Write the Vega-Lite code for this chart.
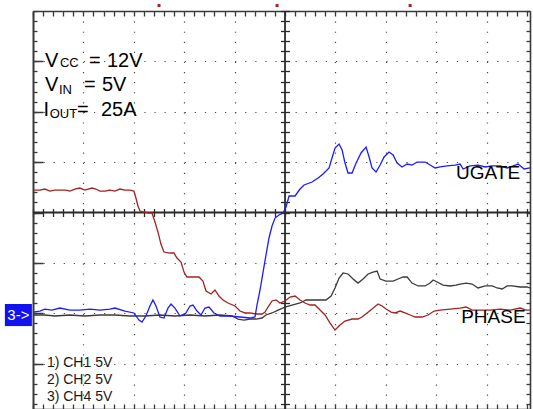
{
  "$schema": "https://vega.github.io/schema/vega-lite/v6.json",
  "width": 497,
  "height": 398,
  "autosize": {"type": "none"},
  "padding": {"left": 33, "top": 11, "right": 3, "bottom": 0},
  "background": "white",
  "config": {
    "view": {"stroke": null},
    "axis": {"labels": false, "title": null, "grid": false, "domain": false, "ticks": false}
  },
  "datasets": {
    "traces": [
      {"t": -250, "v": -10.17, "ch": "CH1"}, {"t": -238.2, "v": -10.17, "ch": "CH1"}, {"t": -228.3, "v": -10.27, "ch": "CH1"}, {"t": -213.4, "v": -10.17, "ch": "CH1"}, {"t": -198.5, "v": -10.27, "ch": "CH1"}, {"t": -183.6, "v": -10.17, "ch": "CH1"}, {"t": -168.7, "v": -10.17, "ch": "CH1"}, {"t": -153.8, "v": -10.27, "ch": "CH1"}, {"t": -138.9, "v": -10.27, "ch": "CH1"}, {"t": -124.1, "v": -10.17, "ch": "CH1"}, {"t": -109.2, "v": -10.27, "ch": "CH1"}, {"t": -94.3, "v": -10.17, "ch": "CH1"}, {"t": -79.4, "v": -10.27, "ch": "CH1"}, {"t": -64.5, "v": -10.17, "ch": "CH1"}, {"t": -52.6, "v": -10.27, "ch": "CH1"}, {"t": -46.6, "v": -10.57, "ch": "CH1"}, {"t": -40.7, "v": -10.67, "ch": "CH1"}, {"t": -34.7, "v": -10.57, "ch": "CH1"}, {"t": -28.8, "v": -10.57, "ch": "CH1"}, {"t": -22.8, "v": -10.47, "ch": "CH1"}, {"t": -18.9, "v": -10.17, "ch": "CH1"}, {"t": -12.9, "v": -9.97, "ch": "CH1"}, {"t": -6.9, "v": -9.68, "ch": "CH1"}, {"t": 0, "v": -9.38, "ch": "CH1"}, {"t": 6.9, "v": -9.18, "ch": "CH1"}, {"t": 14.9, "v": -8.98, "ch": "CH1"}, {"t": 20.8, "v": -8.68, "ch": "CH1"}, {"t": 27.8, "v": -8.68, "ch": "CH1"}, {"t": 34.7, "v": -8.68, "ch": "CH1"}, {"t": 40.7, "v": -8.68, "ch": "CH1"}, {"t": 45.7, "v": -8.29, "ch": "CH1"}, {"t": 49.6, "v": -7.49, "ch": "CH1"}, {"t": 53.6, "v": -6.5, "ch": "CH1"}, {"t": 57.6, "v": -6.0, "ch": "CH1"}, {"t": 62.5, "v": -6.1, "ch": "CH1"}, {"t": 67.5, "v": -6.6, "ch": "CH1"}, {"t": 72.4, "v": -7.0, "ch": "CH1"}, {"t": 77.4, "v": -6.6, "ch": "CH1"}, {"t": 82.4, "v": -6.1, "ch": "CH1"}, {"t": 87.3, "v": -5.91, "ch": "CH1"}, {"t": 91.3, "v": -5.81, "ch": "CH1"}, {"t": 94.3, "v": -6.6, "ch": "CH1"}, {"t": 100.2, "v": -6.8, "ch": "CH1"}, {"t": 107.2, "v": -6.8, "ch": "CH1"}, {"t": 112.1, "v": -6.6, "ch": "CH1"}, {"t": 117.1, "v": -6.4, "ch": "CH1"}, {"t": 121.1, "v": -6.4, "ch": "CH1"}, {"t": 126, "v": -7.0, "ch": "CH1"}, {"t": 132, "v": -7.29, "ch": "CH1"}, {"t": 138.9, "v": -7.29, "ch": "CH1"}, {"t": 143.9, "v": -7.0, "ch": "CH1"}, {"t": 146.9, "v": -6.7, "ch": "CH1"}, {"t": 150.9, "v": -6.9, "ch": "CH1"}, {"t": 156.8, "v": -7.2, "ch": "CH1"}, {"t": 163.8, "v": -7.29, "ch": "CH1"}, {"t": 169.7, "v": -7.2, "ch": "CH1"}, {"t": 173.7, "v": -7.1, "ch": "CH1"}, {"t": 179.6, "v": -7.0, "ch": "CH1"}, {"t": 185.6, "v": -7.1, "ch": "CH1"}, {"t": 191.5, "v": -7.49, "ch": "CH1"}, {"t": 198.5, "v": -7.29, "ch": "CH1"}, {"t": 205.4, "v": -7.29, "ch": "CH1"}, {"t": 210.4, "v": -7.49, "ch": "CH1"}, {"t": 215.4, "v": -7.59, "ch": "CH1"}, {"t": 220.3, "v": -7.29, "ch": "CH1"}, {"t": 225.3, "v": -7.29, "ch": "CH1"}, {"t": 233.2, "v": -7.39, "ch": "CH1"}, {"t": 240.2, "v": -7.39, "ch": "CH1"}, {"t": 243, "v": -7.49, "ch": "CH1"},

      {"t": -250, "v": 2.23, "ch": "CH2"}, {"t": -243.2, "v": 2.23, "ch": "CH2"}, {"t": -238.2, "v": 2.33, "ch": "CH2"}, {"t": -233.2, "v": 2.13, "ch": "CH2"}, {"t": -228.3, "v": 2.23, "ch": "CH2"}, {"t": -223.3, "v": 2.23, "ch": "CH2"}, {"t": -217.3, "v": 2.23, "ch": "CH2"}, {"t": -213.4, "v": 2.13, "ch": "CH2"}, {"t": -208.4, "v": 2.33, "ch": "CH2"}, {"t": -203.5, "v": 2.43, "ch": "CH2"}, {"t": -198.5, "v": 2.23, "ch": "CH2"}, {"t": -191.5, "v": 2.43, "ch": "CH2"}, {"t": -187.6, "v": 2.33, "ch": "CH2"}, {"t": -183.6, "v": 2.13, "ch": "CH2"}, {"t": -178.6, "v": 2.13, "ch": "CH2"}, {"t": -173.7, "v": 2.23, "ch": "CH2"}, {"t": -168.7, "v": 2.13, "ch": "CH2"}, {"t": -163.8, "v": 2.33, "ch": "CH2"}, {"t": -158.8, "v": 2.23, "ch": "CH2"}, {"t": -153.8, "v": 2.23, "ch": "CH2"}, {"t": -149.9, "v": 2.13, "ch": "CH2"}, {"t": -147.9, "v": 1.44, "ch": "CH2"}, {"t": -145.9, "v": 0.65, "ch": "CH2"}, {"t": -143.9, "v": 0.15, "ch": "CH2"}, {"t": -139.9, "v": 0.05, "ch": "CH2"}, {"t": -135, "v": -0.05, "ch": "CH2"}, {"t": -132, "v": -0.05, "ch": "CH2"}, {"t": -129, "v": -0.94, "ch": "CH2"}, {"t": -126, "v": -1.94, "ch": "CH2"}, {"t": -123.1, "v": -3.13, "ch": "CH2"}, {"t": -120.1, "v": -3.92, "ch": "CH2"}, {"t": -114.1, "v": -4.02, "ch": "CH2"}, {"t": -110.2, "v": -4.02, "ch": "CH2"}, {"t": -107.2, "v": -4.52, "ch": "CH2"}, {"t": -103.2, "v": -4.91, "ch": "CH2"}, {"t": -100.2, "v": -5.91, "ch": "CH2"}, {"t": -97.3, "v": -6.4, "ch": "CH2"}, {"t": -91.3, "v": -6.4, "ch": "CH2"}, {"t": -85.4, "v": -6.4, "ch": "CH2"}, {"t": -81.4, "v": -6.8, "ch": "CH2"}, {"t": -78.4, "v": -7.79, "ch": "CH2"}, {"t": -73.4, "v": -8.09, "ch": "CH2"}, {"t": -69.5, "v": -7.69, "ch": "CH2"}, {"t": -65.5, "v": -8.29, "ch": "CH2"}, {"t": -61.5, "v": -8.68, "ch": "CH2"}, {"t": -56.6, "v": -8.98, "ch": "CH2"}, {"t": -49.6, "v": -9.28, "ch": "CH2"}, {"t": -44.7, "v": -9.78, "ch": "CH2"}, {"t": -39.7, "v": -9.97, "ch": "CH2"}, {"t": -34.7, "v": -9.97, "ch": "CH2"}, {"t": -28.8, "v": -10.07, "ch": "CH2"}, {"t": -22.8, "v": -10.07, "ch": "CH2"}, {"t": -19.8, "v": -9.88, "ch": "CH2"}, {"t": -16.9, "v": -9.38, "ch": "CH2"}, {"t": -12.9, "v": -8.78, "ch": "CH2"}, {"t": -8.9, "v": -8.68, "ch": "CH2"}, {"t": -5, "v": -8.98, "ch": "CH2"}, {"t": 0, "v": -8.78, "ch": "CH2"}, {"t": 5, "v": -8.39, "ch": "CH2"}, {"t": 9.9, "v": -8.29, "ch": "CH2"}, {"t": 14.9, "v": -8.68, "ch": "CH2"}, {"t": 19.8, "v": -8.98, "ch": "CH2"}, {"t": 24.8, "v": -9.18, "ch": "CH2"}, {"t": 29.8, "v": -9.18, "ch": "CH2"}, {"t": 34.7, "v": -9.68, "ch": "CH2"}, {"t": 39.7, "v": -10.17, "ch": "CH2"}, {"t": 44.7, "v": -10.97, "ch": "CH2"}, {"t": 49.6, "v": -11.66, "ch": "CH2"}, {"t": 54.6, "v": -11.17, "ch": "CH2"}, {"t": 59.5, "v": -10.77, "ch": "CH2"}, {"t": 66.5, "v": -10.57, "ch": "CH2"}, {"t": 72.4, "v": -10.57, "ch": "CH2"}, {"t": 76.4, "v": -10.37, "ch": "CH2"}, {"t": 81.4, "v": -9.97, "ch": "CH2"}, {"t": 86.3, "v": -9.58, "ch": "CH2"}, {"t": 92.3, "v": -9.08, "ch": "CH2"}, {"t": 96.3, "v": -9.28, "ch": "CH2"}, {"t": 100.2, "v": -9.58, "ch": "CH2"}, {"t": 105.2, "v": -9.88, "ch": "CH2"}, {"t": 109.2, "v": -9.97, "ch": "CH2"}, {"t": 114.1, "v": -9.78, "ch": "CH2"}, {"t": 119.1, "v": -9.97, "ch": "CH2"}, {"t": 124.1, "v": -10.17, "ch": "CH2"}, {"t": 129, "v": -10.37, "ch": "CH2"}, {"t": 136, "v": -10.37, "ch": "CH2"}, {"t": 141.9, "v": -10.17, "ch": "CH2"}, {"t": 147.9, "v": -9.78, "ch": "CH2"}, {"t": 153.8, "v": -9.68, "ch": "CH2"}, {"t": 163.8, "v": -9.58, "ch": "CH2"}, {"t": 173.7, "v": -9.48, "ch": "CH2"}, {"t": 179.6, "v": -9.38, "ch": "CH2"}, {"t": 185.6, "v": -9.68, "ch": "CH2"}, {"t": 193.5, "v": -9.68, "ch": "CH2"}, {"t": 203.5, "v": -9.68, "ch": "CH2"}, {"t": 213.4, "v": -9.58, "ch": "CH2"}, {"t": 223.3, "v": -9.68, "ch": "CH2"}, {"t": 233.2, "v": -9.48, "ch": "CH2"}, {"t": 239.2, "v": -9.68, "ch": "CH2"}, {"t": 243, "v": -9.68, "ch": "CH2"},

      {"t": -250, "v": -9.88, "ch": "CH4"}, {"t": -243.2, "v": -9.78, "ch": "CH4"}, {"t": -238.2, "v": -9.58, "ch": "CH4"}, {"t": -231.2, "v": -9.68, "ch": "CH4"}, {"t": -223.3, "v": -9.48, "ch": "CH4"}, {"t": -213.4, "v": -9.68, "ch": "CH4"}, {"t": -203.5, "v": -9.68, "ch": "CH4"}, {"t": -193.5, "v": -9.58, "ch": "CH4"}, {"t": -183.6, "v": -9.68, "ch": "CH4"}, {"t": -173.7, "v": -9.58, "ch": "CH4"}, {"t": -168.7, "v": -9.48, "ch": "CH4"}, {"t": -158.8, "v": -9.78, "ch": "CH4"}, {"t": -149.9, "v": -9.97, "ch": "CH4"}, {"t": -144.9, "v": -10.67, "ch": "CH4"}, {"t": -141.9, "v": -10.87, "ch": "CH4"}, {"t": -138, "v": -10.27, "ch": "CH4"}, {"t": -134, "v": -9.28, "ch": "CH4"}, {"t": -131, "v": -8.68, "ch": "CH4"}, {"t": -128, "v": -9.28, "ch": "CH4"}, {"t": -124.1, "v": -10.37, "ch": "CH4"}, {"t": -120.1, "v": -10.47, "ch": "CH4"}, {"t": -116.1, "v": -9.48, "ch": "CH4"}, {"t": -113.1, "v": -9.08, "ch": "CH4"}, {"t": -109.2, "v": -9.48, "ch": "CH4"}, {"t": -104.2, "v": -10.27, "ch": "CH4"}, {"t": -98.3, "v": -9.97, "ch": "CH4"}, {"t": -94.3, "v": -9.28, "ch": "CH4"}, {"t": -91.3, "v": -9.18, "ch": "CH4"}, {"t": -87.3, "v": -9.78, "ch": "CH4"}, {"t": -83.4, "v": -10.17, "ch": "CH4"}, {"t": -79.4, "v": -9.48, "ch": "CH4"}, {"t": -75.4, "v": -9.38, "ch": "CH4"}, {"t": -70.5, "v": -9.97, "ch": "CH4"}, {"t": -64.5, "v": -10.27, "ch": "CH4"}, {"t": -54.6, "v": -10.27, "ch": "CH4"}, {"t": -44.7, "v": -10.37, "ch": "CH4"}, {"t": -34.7, "v": -10.47, "ch": "CH4"}, {"t": -29.8, "v": -10.37, "ch": "CH4"}, {"t": -27.8, "v": -9.18, "ch": "CH4"}, {"t": -24.8, "v": -7.69, "ch": "CH4"}, {"t": -21.8, "v": -5.91, "ch": "CH4"}, {"t": -18.9, "v": -4.22, "ch": "CH4"}, {"t": -15.9, "v": -2.53, "ch": "CH4"}, {"t": -12.9, "v": -1.34, "ch": "CH4"}, {"t": -9.9, "v": -0.55, "ch": "CH4"}, {"t": -6, "v": -0.25, "ch": "CH4"}, {"t": -2, "v": -0.05, "ch": "CH4"}, {"t": 1, "v": 0.55, "ch": "CH4"}, {"t": 4, "v": 1.64, "ch": "CH4"}, {"t": 9.9, "v": 1.64, "ch": "CH4"}, {"t": 14.9, "v": 2.33, "ch": "CH4"}, {"t": 18.9, "v": 2.73, "ch": "CH4"}, {"t": 26.8, "v": 3.03, "ch": "CH4"}, {"t": 32.8, "v": 3.42, "ch": "CH4"}, {"t": 37.7, "v": 3.82, "ch": "CH4"}, {"t": 43.7, "v": 4.42, "ch": "CH4"}, {"t": 46.6, "v": 5.41, "ch": "CH4"}, {"t": 49.6, "v": 6.4, "ch": "CH4"}, {"t": 53.6, "v": 6.8, "ch": "CH4"}, {"t": 56.6, "v": 6.2, "ch": "CH4"}, {"t": 59.5, "v": 4.91, "ch": "CH4"}, {"t": 62.5, "v": 3.92, "ch": "CH4"}, {"t": 66.5, "v": 3.92, "ch": "CH4"}, {"t": 70.5, "v": 4.91, "ch": "CH4"}, {"t": 75.4, "v": 5.91, "ch": "CH4"}, {"t": 80.4, "v": 6.5, "ch": "CH4"}, {"t": 83.4, "v": 5.51, "ch": "CH4"}, {"t": 86.3, "v": 4.42, "ch": "CH4"}, {"t": 90.3, "v": 4.02, "ch": "CH4"}, {"t": 94.3, "v": 4.71, "ch": "CH4"}, {"t": 98.3, "v": 5.51, "ch": "CH4"}, {"t": 103.2, "v": 6.0, "ch": "CH4"}, {"t": 107.2, "v": 5.71, "ch": "CH4"}, {"t": 111.2, "v": 4.91, "ch": "CH4"}, {"t": 116.1, "v": 4.52, "ch": "CH4"}, {"t": 121.1, "v": 4.81, "ch": "CH4"}, {"t": 126, "v": 4.71, "ch": "CH4"}, {"t": 131, "v": 5.01, "ch": "CH4"}, {"t": 138.9, "v": 5.01, "ch": "CH4"}, {"t": 143.9, "v": 4.71, "ch": "CH4"}, {"t": 148.9, "v": 4.42, "ch": "CH4"}, {"t": 153.8, "v": 4.52, "ch": "CH4"}, {"t": 160.8, "v": 4.62, "ch": "CH4"}, {"t": 168.7, "v": 4.71, "ch": "CH4"}, {"t": 173.7, "v": 4.81, "ch": "CH4"}, {"t": 176.7, "v": 4.32, "ch": "CH4"}, {"t": 183.6, "v": 4.62, "ch": "CH4"}, {"t": 191.5, "v": 4.71, "ch": "CH4"}, {"t": 198.5, "v": 4.52, "ch": "CH4"}, {"t": 205.4, "v": 4.62, "ch": "CH4"}, {"t": 213.4, "v": 4.62, "ch": "CH4"}, {"t": 220.3, "v": 4.42, "ch": "CH4"}, {"t": 226.3, "v": 4.62, "ch": "CH4"}, {"t": 231.2, "v": 4.81, "ch": "CH4"}, {"t": 237.2, "v": 4.32, "ch": "CH4"}, {"t": 243, "v": 4.42, "ch": "CH4"}
    ],
    "notes": [
      {"t": -238.2, "v": 14.44, "text": "V", "role": "main"},
      {"t": -194.5, "v": 14.44, "text": "=", "role": "main"},
      {"t": -176.6, "v": 14.44, "text": "12V", "role": "main"},
      {"t": -238.2, "v": 12.06, "text": "V", "role": "main"},
      {"t": -199.5, "v": 12.06, "text": "=", "role": "main"},
      {"t": -181.6, "v": 12.06, "text": "5V", "role": "main"},
      {"t": -239.7, "v": 9.58, "text": "I", "role": "main"},
      {"t": -206.4, "v": 9.58, "text": "=", "role": "main"},
      {"t": -182.6, "v": 9.58, "text": "25A", "role": "main"},
      {"t": -223.3, "v": 14.44, "text": "CC", "role": "sub"},
      {"t": -224.3, "v": 11.76, "text": "IN", "role": "sub"},
      {"t": -233.4, "v": 9.38, "text": "OUT", "role": "sub"},
      {"t": 169.7, "v": 3.32, "text": "UGATE", "role": "label"},
      {"t": 174.7, "v": -10.97, "text": "PHASE", "role": "label"},
      {"t": -236.2, "v": -15.33, "text": "1) CH1 5V", "role": "legend"},
      {"t": -236.2, "v": -17.02, "text": "2) CH2 5V", "role": "legend"},
      {"t": -236.2, "v": -18.71, "text": "3) CH4 5V", "role": "legend"}
    ],
    "marker": [
      {"x0": -277.9, "x1": -251.1, "y0": -9.08, "y1": -11.27, "xc": -264.5, "yc": -10.17, "label": "3->"}
    ],
    "cursors": [
      {"t": -125, "v": 20.54, "ch": "CH2"},
      {"t": -7.9, "v": 20.54, "ch": "CH2"},
      {"t": 124.1, "v": 20.54, "ch": "CH2"}
    ]
  },
  "resolve": {"axis": {"x": "independent", "y": "independent"}},
  "layer": [
    {
      "data": {"name": "notes"},
      "transform": [{"filter": "datum.role === 'main'"}],
      "mark": {"type": "text", "font": "Liberation Sans", "fontSize": 20, "align": "left", "baseline": "alphabetic", "color": "#000000"},
      "encoding": {
        "x": {"field": "t", "type": "quantitative", "scale": {"domain": [-250, 243], "nice": false, "zero": false},
              "axis": {"orient": "bottom", "grid": true, "gridColor": "#4a4a4a", "gridWidth": 1.2, "gridDash": [1.2, 8.88], "values": [-200, -150, -100, -50, 50, 100, 150, 200]}},
        "y": {"field": "v", "type": "quantitative", "scale": {"domain": [-19.5, 20], "nice": false, "zero": false},
              "axis": {"orient": "left", "grid": true, "gridColor": "#4a4a4a", "gridWidth": 1.2, "gridDash": [1.2, 8.88], "values": [-15, -10, -5, 5, 10, 15]}},
        "text": {"field": "text"}
      }
    },
    {
      "data": {"values": [{}]},
      "mark": {"type": "rule", "color": "#2a2a2a", "strokeWidth": 1.8},
      "encoding": {
        "x": {"datum": -250, "type": "quantitative", "scale": {"domain": [-250, 243], "nice": false, "zero": false},
              "axis": {"orient": "bottom", "offset": -192.5, "ticks": true, "tickColor": "#2a2a2a", "tickWidth": 1.3, "tickSize": -8,
                       "values": [-250,-240,-230,-220,-210,-200,-190,-180,-170,-160,-150,-140,-130,-120,-110,-100,-90,-80,-70,-60,-50,-40,-30,-20,-10,0,10,20,30,40,50,60,70,80,90,100,110,120,130,140,150,160,170,180,190,200,210,220,230,240]}},
        "x2": {"datum": 243},
        "y": {"datum": 0, "type": "quantitative", "scale": {"domain": [-19.5, 20], "nice": false, "zero": false},
              "axis": {"orient": "left", "ticks": true, "tickColor": "#3a3a3a", "tickWidth": 1.5, "tickSize": -10, "values": [-15, -10, -5, 0, 5, 10, 15]}}
      }
    },
    {
      "data": {"values": [{}]},
      "mark": {"type": "rule", "color": "#2a2a2a", "strokeWidth": 1.8},
      "encoding": {
        "x": {"datum": 0, "type": "quantitative", "scale": {"domain": [-250, 243], "nice": false, "zero": false},
              "axis": {"orient": "bottom", "domain": true, "domainColor": "#3a3a3a", "domainWidth": 1.6, "ticks": true, "tickColor": "#3a3a3a", "tickWidth": 1.3, "tickSize": -5,
                       "values": [-250,-240,-230,-220,-210,-200,-190,-180,-170,-160,-150,-140,-130,-120,-110,-100,-90,-80,-70,-60,-50,-40,-30,-20,-10,0,10,20,30,40,50,60,70,80,90,100,110,120,130,140,150,160,170,180,190,200,210,220,230,240]}},
        "y": {"datum": -19.5, "type": "quantitative", "scale": {"domain": [-19.5, 20], "nice": false, "zero": false},
              "axis": {"orient": "left", "offset": -247.5, "ticks": true, "tickColor": "#2a2a2a", "tickWidth": 1.3, "tickSize": -9,
                       "values": [-19,-18,-17,-16,-15,-14,-13,-12,-11,-10,-9,-8,-7,-6,-5,-4,-3,-2,-1,0,1,2,3,4,5,6,7,8,9,10,11,12,13,14,15,16,17,18,19,20]}},
        "y2": {"datum": 20}
      }
    },
    {
      "data": {"name": "marker"},
      "mark": {"type": "rect", "color": "#1212ee"},
      "encoding": {
        "x": {"field": "x0", "type": "quantitative", "scale": {"domain": [-250, 243], "nice": false, "zero": false}, "axis": null},
        "x2": {"field": "x1"},
        "y": {"field": "y0", "type": "quantitative", "scale": {"domain": [-19.5, 20], "nice": false, "zero": false},
              "axis": {"orient": "right", "domain": true, "domainColor": "#3a3a3a", "domainWidth": 1.6, "ticks": true, "tickColor": "#3a3a3a", "tickWidth": 1.3, "tickSize": -4,
                       "values": [-19,-18,-17,-16,-15,-14,-13,-12,-11,-10,-9,-8,-7,-6,-5,-4,-3,-2,-1,0,1,2,3,4,5,6,7,8,9,10,11,12,13,14,15,16,17,18,19,20]}},
        "y2": {"field": "y1"}
      }
    },
    {
      "data": {"name": "traces"},
      "mark": {"type": "line", "strokeWidth": 1.3},
      "encoding": {
        "x": {"field": "t", "type": "quantitative", "scale": {"domain": [-250, 243], "nice": false, "zero": false},
              "axis": {"orient": "top", "domain": true, "domainColor": "#3a3a3a", "domainWidth": 1.6, "ticks": true, "tickColor": "#3a3a3a", "tickWidth": 1.3, "tickSize": -5,
                       "values": [-250,-240,-230,-220,-210,-200,-190,-180,-170,-160,-150,-140,-130,-120,-110,-100,-90,-80,-70,-60,-50,-40,-30,-20,-10,0,10,20,30,40,50,60,70,80,90,100,110,120,130,140,150,160,170,180,190,200,210,220,230,240]}},
        "y": {"field": "v", "type": "quantitative", "scale": {"domain": [-19.5, 20], "nice": false, "zero": false},
              "axis": {"orient": "left", "domain": true, "domainColor": "#3a3a3a", "domainWidth": 2, "ticks": true, "tickColor": "#3a3a3a", "tickWidth": 1.3, "tickSize": -4,
                       "values": [-19,-18,-17,-16,-15,-14,-13,-12,-11,-10,-9,-8,-7,-6,-5,-4,-3,-2,-1,0,1,2,3,4,5,6,7,8,9,10,11,12,13,14,15,16,17,18,19,20]}},
        "color": {"field": "ch", "type": "nominal", "scale": {"domain": ["CH1", "CH2", "CH4"], "range": ["#3a3a3a", "#a32222", "#1c1cff"]}, "legend": null}
      }
    },
    {
      "data": {"name": "notes"},
      "transform": [{"filter": "datum.role === 'sub'"}],
      "mark": {"type": "text", "font": "Liberation Sans", "fontSize": 13, "align": "left", "baseline": "alphabetic", "color": "#000000"},
      "encoding": {
        "x": {"field": "t", "type": "quantitative", "scale": {"domain": [-250, 243], "nice": false, "zero": false}, "axis": null},
        "y": {"field": "v", "type": "quantitative", "scale": {"domain": [-19.5, 20], "nice": false, "zero": false}, "axis": null},
        "text": {"field": "text"}
      }
    },
    {
      "data": {"name": "notes"},
      "transform": [{"filter": "datum.role === 'label'"}],
      "mark": {"type": "text", "font": "Liberation Sans", "fontSize": 19, "align": "left", "baseline": "alphabetic", "color": "#000000"},
      "encoding": {
        "x": {"field": "t", "type": "quantitative", "scale": {"domain": [-250, 243], "nice": false, "zero": false}, "axis": null},
        "y": {"field": "v", "type": "quantitative", "scale": {"domain": [-19.5, 20], "nice": false, "zero": false}, "axis": null},
        "text": {"field": "text"}
      }
    },
    {
      "data": {"name": "notes"},
      "transform": [{"filter": "datum.role === 'legend'"}],
      "mark": {"type": "text", "font": "Liberation Sans", "fontSize": 14, "align": "left", "baseline": "alphabetic", "color": "#1a1a1a"},
      "encoding": {
        "x": {"field": "t", "type": "quantitative", "scale": {"domain": [-250, 243], "nice": false, "zero": false}, "axis": null},
        "y": {"field": "v", "type": "quantitative", "scale": {"domain": [-19.5, 20], "nice": false, "zero": false}, "axis": null},
        "text": {"field": "text"}
      }
    },
    {
      "data": {"name": "marker"},
      "mark": {"type": "text", "font": "Liberation Sans", "fontSize": 15, "align": "center", "baseline": "middle", "color": "#ffffff"},
      "encoding": {
        "x": {"field": "xc", "type": "quantitative", "scale": {"domain": [-250, 243], "nice": false, "zero": false}, "axis": null},
        "y": {"field": "yc", "type": "quantitative", "scale": {"domain": [-19.5, 20], "nice": false, "zero": false}, "axis": null},
        "text": {"field": "label"}
      }
    },
    {
      "data": {"name": "cursors"},
      "mark": {"type": "point", "shape": "square", "filled": true, "size": 9, "opacity": 1},
      "encoding": {
        "x": {"field": "t", "type": "quantitative", "scale": {"domain": [-250, 243], "nice": false, "zero": false}, "axis": null},
        "y": {"field": "v", "type": "quantitative", "scale": {"domain": [-19.5, 20], "nice": false, "zero": false}, "axis": null},
        "color": {"field": "ch", "type": "nominal", "scale": {"domain": ["CH1", "CH2", "CH4"], "range": ["#3a3a3a", "#a32222", "#1c1cff"]}, "legend": null}
      }
    }
  ]
}
